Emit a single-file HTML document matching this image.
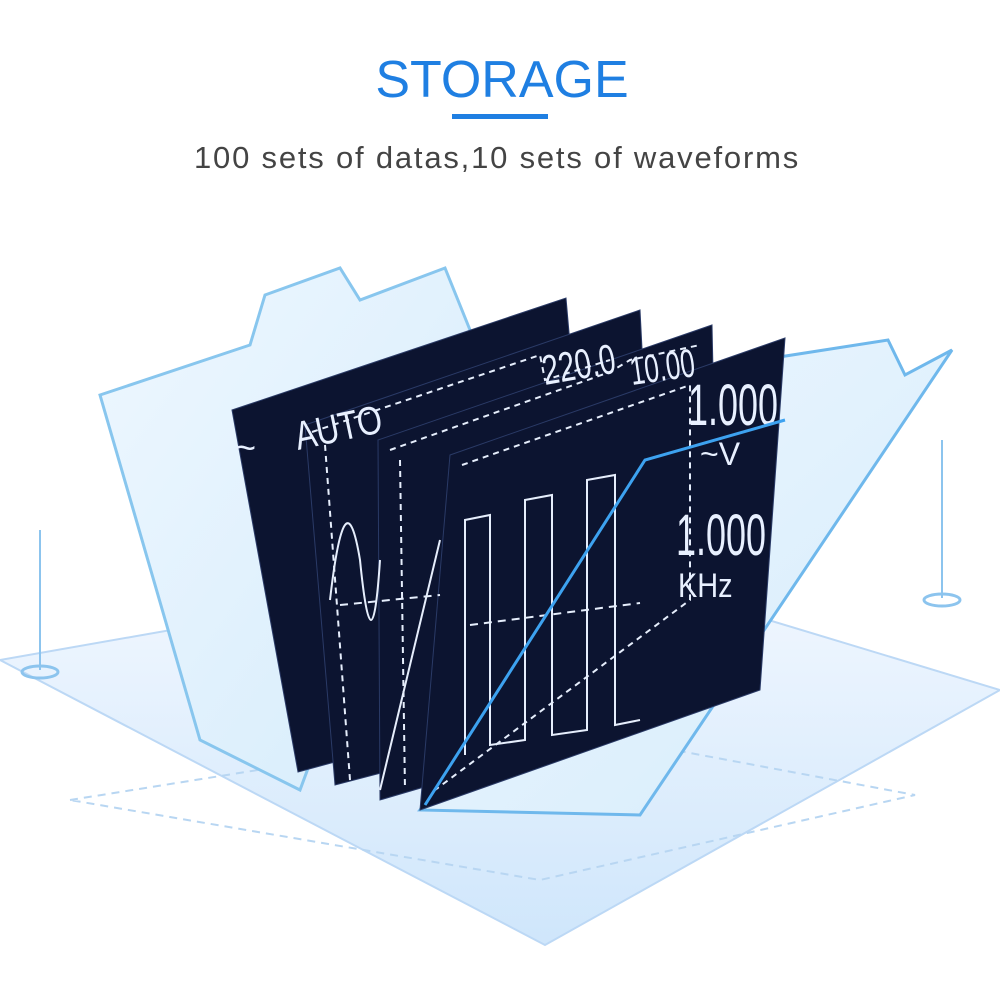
<!DOCTYPE html>
<html><head><meta charset="utf-8"><style>
html,body{margin:0;padding:0;background:#fff;width:1000px;height:1000px;overflow:hidden}
</style></head><body>
<svg width="1000" height="1000" viewBox="0 0 1000 1000" xmlns="http://www.w3.org/2000/svg">
<defs>
<linearGradient id="fl" x1="0" y1="0" x2="0" y2="1">
<stop offset="0" stop-color="#f3f8ff"/><stop offset="1" stop-color="#cfe6fb"/>
</linearGradient>
<linearGradient id="fd" x1="0" y1="0" x2="1" y2="1">
<stop offset="0" stop-color="#eef7ff"/><stop offset="1" stop-color="#d5ecfb"/>
</linearGradient>
</defs>
<text x="502" y="97" text-anchor="middle" font-family="Liberation Sans, sans-serif" font-size="52" fill="#1f7fe2">STORAGE</text>
<rect x="452" y="114" width="96" height="5" fill="#1f7fe2"/>
<text x="497" y="168" text-anchor="middle" font-family="Liberation Sans, sans-serif" font-size="31" letter-spacing="1.8" fill="#444">100 sets of datas,10 sets of waveforms</text>

<polygon points="0,660 570,560 1000,690 545,945" fill="url(#fl)" stroke="#bcd8f5" stroke-width="2"/>
<polygon points="70,800 540,725 915,795 540,880" fill="none" stroke="#b8d6f2" stroke-width="2" stroke-dasharray="8,6"/>
<line x1="40" y1="530" x2="40" y2="670" stroke="#8cc4ee" stroke-width="2"/>
<ellipse cx="40" cy="672" rx="18" ry="6" fill="none" stroke="#8cc4ee" stroke-width="3"/>
<line x1="942" y1="440" x2="942" y2="598" stroke="#8cc4ee" stroke-width="2"/>
<ellipse cx="942" cy="600" rx="18" ry="6" fill="none" stroke="#8cc4ee" stroke-width="3"/>

<polygon points="100,395 250,345 265,295 340,268 360,300 445,268 470,330 300,790 200,740" fill="url(#fd)" stroke="#88c6ee" stroke-width="3"/>
<polygon points="760,360 888,340 905,375 952,350 640,815 420,810" fill="url(#fd)" stroke="#6fb8ec" stroke-width="3"/>

<g fill="#0c1430" stroke="#2a3a66" stroke-width="1">
<polygon points="232,410 566,298 600,690 298,772"/>
<polygon points="305,425 640,310 660,700 335,785"/>
<polygon points="378,440 712,325 720,700 380,800"/>
<polygon points="450,455 785,338 760,690 420,810"/>
</g>
<g fill="none" stroke="#e6eefc" stroke-width="2" stroke-dasharray="6,5">
<polyline points="312,432 540,355 545,380 610,360"/>
<polyline points="390,450 610,372 630,360 700,345"/>
<polyline points="400,460 405,790"/>
<polyline points="325,445 350,780"/>
<polyline points="462,465 690,385 690,600 435,790"/>
</g>
<g font-family="Liberation Sans, sans-serif" fill="#e8f0ff">
<text x="235" y="460" font-size="36">~</text>
<text transform="translate(298,450) rotate(-12) scale(0.8,1)" font-size="40">AUTO</text>
<text transform="translate(545,385) rotate(-10) scale(0.7,1)" font-size="42">220.0</text>
<text transform="translate(632,385) rotate(-8) scale(0.65,1)" font-size="40">10.00</text>
<text transform="translate(688,425) scale(0.62,1)" font-size="58">1.000</text>
<text x="700" y="465" font-size="32">~V</text>
<text transform="translate(676,555) scale(0.62,1)" font-size="58">1.000</text>
<text transform="translate(678,597) scale(0.85,1)" font-size="34">KHz</text>
</g>
<g fill="none" stroke="#e6eefc" stroke-width="2">
<path d="M330,600 Q345,470 360,560 Q372,680 380,560"/>
<polyline points="465,755 465,520 490,515 490,745 525,740 525,500 552,495 552,735 587,730 587,480 615,475 615,725 640,720"/>
<polyline points="380,790 440,540"/>
</g>
<line x1="340" y1="605" x2="440" y2="595" stroke="#e6eefc" stroke-width="2" stroke-dasharray="8,6"/>
<line x1="470" y1="625" x2="640" y2="603" stroke="#e6eefc" stroke-width="2" stroke-dasharray="8,6"/>
<polyline points="425,805 645,460 785,420" fill="none" stroke="#3da2f0" stroke-width="3"/>
</svg>
</body></html>
